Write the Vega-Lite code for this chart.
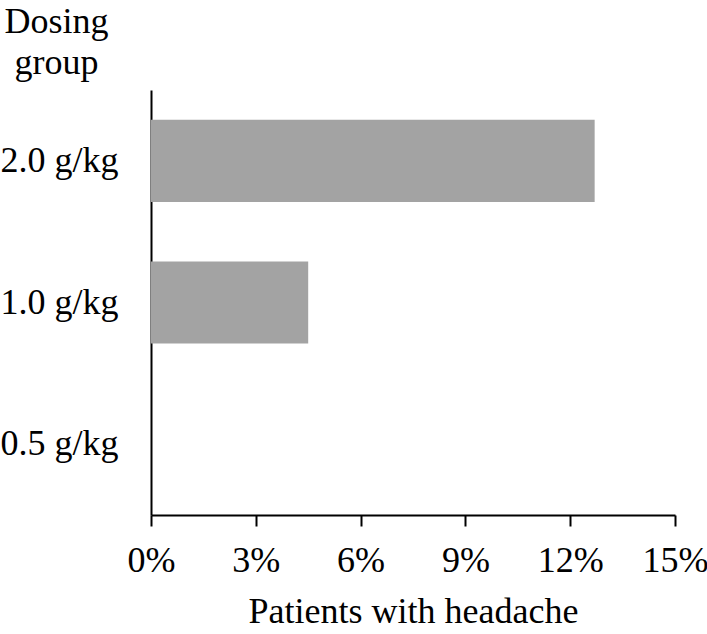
{
  "$schema": "https://vega.github.io/schema/vega-lite/v6.json",
  "autosize": "none",
  "width": 524,
  "height": 425,
  "padding": {"left": 151, "top": 90, "right": 32, "bottom": 119},
  "background": "white",
  "config": {
    "view": {"stroke": null},
    "font": "Liberation Serif",
    "axis": {"grid": false, "domainColor": "black", "tickColor": "black", "labelColor": "black", "titleColor": "black", "labelFont": "Liberation Serif", "titleFont": "Liberation Serif", "labelFontWeight": "normal", "titleFontWeight": "normal"}
  },
  "data": {
    "values": [
      {"group": "2.0 g/kg", "pct": 0.127},
      {"group": "1.0 g/kg", "pct": 0.045},
      {"group": "0.5 g/kg", "pct": 0.0}
    ]
  },
  "mark": {"type": "bar", "color": "#a3a3a3"},
  "encoding": {
    "y": {
      "field": "group",
      "type": "nominal",
      "sort": ["2.0 g/kg", "1.0 g/kg", "0.5 g/kg"],
      "scale": {"paddingInner": 0.42, "paddingOuter": 0.21},
      "axis": {
        "title": ["Dosing", "group"],
        "titleFontSize": 36,
        "titleAngle": 0,
        "titleAlign": "center",
        "titleBaseline": "top",
        "titleX": -95,
        "titleY": -86,
        "titleLineHeight": 41,
        "labelFontSize": 36,
        "labelPadding": 33,
        "ticks": false,
        "tickSize": 0,
        "domainWidth": 2
      }
    },
    "x": {
      "field": "pct",
      "type": "quantitative",
      "scale": {"domain": [0, 0.15], "nice": false},
      "axis": {
        "title": "Patients with headache",
        "titleFontSize": 36,
        "titlePadding": 16,
        "values": [0, 0.03, 0.06, 0.09, 0.12, 0.15],
        "format": ".0%",
        "labelFontSize": 36,
        "labelPadding": 17,
        "tickSize": 11,
        "tickWidth": 2,
        "domainWidth": 2,
        "labelFlush": false
      }
    }
  }
}
